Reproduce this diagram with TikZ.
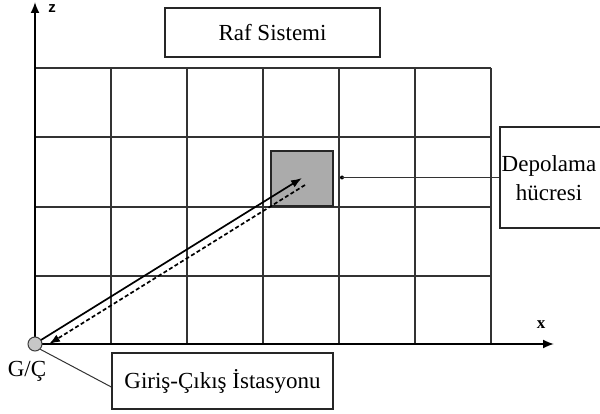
\documentclass[tikz,border=0pt]{standalone}
\usepackage{fontspec}
\setmainfont{Liberation Serif}
\setsansfont{Liberation Sans}
\usetikzlibrary{arrows.meta}
\tikzset{
  gridline/.style={line width=1.8pt, draw=black!80},
  labelbox/.style={draw=black!85, line width=1.4pt, rectangle, inner sep=0pt, font=\fontsize{23}{29}\selectfont},
  axisarrow/.style={line width=1.8pt, -{Latex[length=11pt,width=9pt]}},
  movearrow/.style={line width=1.7pt, -{Latex[length=11pt,width=8pt]}},
  leader/.style={line width=1.2pt, draw=black!80}
}
\begin{document}
\begin{tikzpicture}[x=1pt,y=-1pt]
\clip (0,0) rectangle (600,414);
\useasboundingbox (0,0) rectangle (600,414);
% grid
\foreach \c in {111,187,263,339,415,491} \draw[gridline] (\c,68) -- (\c,344);
\foreach \r in {68,137,207,276} \draw[gridline] (35,\r) -- (491,\r);
% axes
\coordinate (O) at (35,344);
\coordinate (zt) at (35,2);
\coordinate (xt) at (554,344);
\draw[axisarrow] (O) -- (zt);
\draw[axisarrow] (O) -- (xt);
\node[font=\sffamily\bfseries\fontsize{15}{15}\selectfont] (zl) at (52,9) {z};
\node[font=\bfseries\fontsize{17}{17}\selectfont] (xl) at (541,325) {x};
% storage cell
\node[draw=black!85, line width=1.3pt, fill=black!33, minimum width=62pt, minimum height=55pt, inner sep=0pt] (cell) at (302,178.5) {};
% G/C station
\node[circle, draw=black!75, line width=1pt, fill=black!22, minimum size=14pt, inner sep=0pt] (gc) at (O) {};
\node[font=\fontsize{23}{23}\selectfont] (gcl) at (27,371) {G/Ç};
% travel arrows
\coordinate (s1) at (41,340);
\coordinate (e1) at (302,178);
\coordinate (s2) at (305,185);
\coordinate (e2) at (49,344);
\draw[movearrow] (s1) -- (e1);
\draw[movearrow, dashed, dash pattern=on 4pt off 2.5pt] (s2) -- (e2);
% boxes
\node[labelbox, minimum width=215pt, minimum height=49pt] (raf) at (272.5,32.5) {Raf Sistemi};
\node[labelbox, minimum width=120pt, minimum height=101pt] (dep) at (560,177.5) {};
\node[font=\fontsize{23}{29}\selectfont, align=center, inner sep=0pt] (deptext) at (549,178) {Depolama\\hücresi};
\node[labelbox, minimum width=221pt, minimum height=56pt] (gis) at (222.5,381) {Giriş-Çıkış İstasyonu};
% leaders
\coordinate (dot) at (342,177.5);
\fill[black] (dot) circle (2pt);
\draw[leader] (dot) -- (dep.west);
\draw[leader, line width=1pt] ([yshift=-6pt]gis.west) -- (gc.south east);
\end{tikzpicture}
\end{document}
